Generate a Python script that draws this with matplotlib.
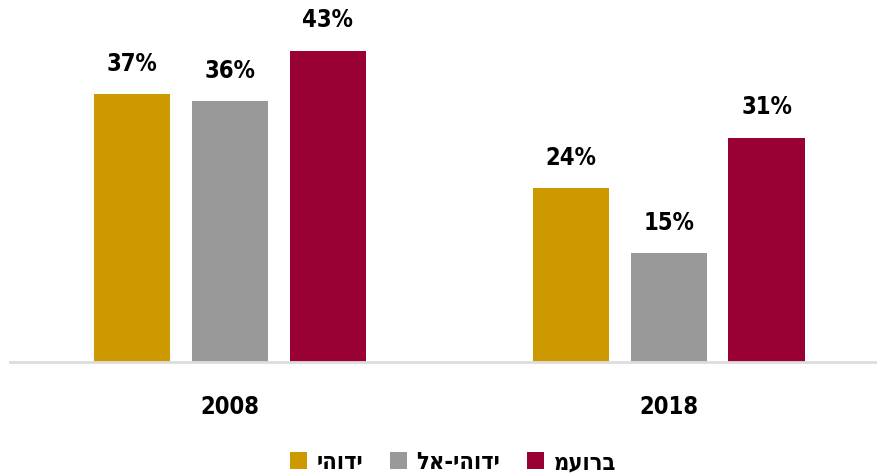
import numpy as np
import matplotlib.pyplot as plt

plt.rcParams['font.family'] = ['DejaVu Sans']
plt.rcParams['font.stretch'] = 'condensed'
plt.rcParams['font.weight'] = 'bold'

years = ['2008', '2018']
series = ['יהודי', 'לא-יהודי', 'מעורב']
values = {
    'יהודי': [37, 24],
    'לא-יהודי': [36, 15],
    'מעורב': [43, 31],
}
colors = ['#cc9900', '#999999', '#990033']

fig = plt.figure(figsize=(8.77, 4.75), dpi=100)
ax = fig.add_axes([10 / 877, 113 / 475, 867 / 877, 362 / 475])

x = np.arange(len(years))
w = 0.175
step = 0.2232
handles = []
for i, name in enumerate(series):
    pos = x + (i - 1) * step
    b = ax.bar(pos, values[name], width=w, color=colors[i], label=name)
    handles.append(b)
    for px, v in zip(pos, values[name]):
        ax.text(px, v + 4.2, f'{v}%', ha='center', va='center', fontsize=17, fontweight='bold')

ax.set_xlim(-0.501, 1.474)
ax.set_ylim(0, 50)
for s in ['top', 'right', 'left']:
    ax.spines[s].set_visible(False)
ax.spines['bottom'].set_color('#dddddd')
ax.spines['bottom'].set_linewidth(2)
ax.set_yticks([])
ax.set_xticks(x)
ax.set_xticklabels(years, fontsize=17, fontweight='bold')
ax.tick_params(axis='x', length=0, pad=24)

fig.legend(handles=handles, labels=series, ncol=3, loc='center',
           bbox_to_anchor=(453 / 877, 13 / 475), frameon=False, fontsize=17,
           handlelength=0.7, handleheight=0.7, handletextpad=0.4, columnspacing=1.15)

plt.savefig('out.png', dpi=100)
